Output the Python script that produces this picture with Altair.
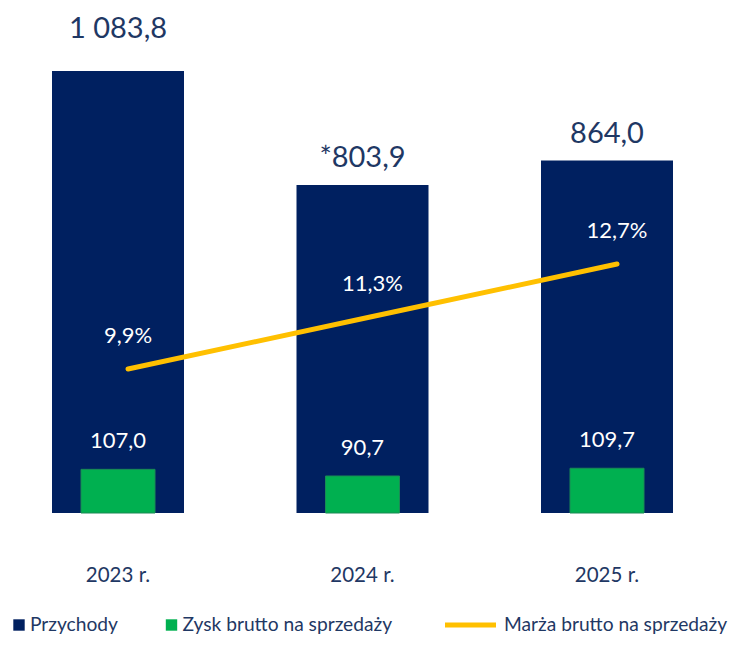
import altair as alt
import pandas as pd

years = ["2023 r.", "2024 r.", "2025 r."]
revenue = [1083.8, 803.9, 864.0]
revenue_marks = ["", "*", ""]
gross_profit = [107.0, 90.7, 109.7]
gross_margin = [9.9, 11.3, 12.7]
series = ["Przychody", "Zysk brutto na sprzedaży", "Marża brutto na sprzedaży"]

NAVY = "#002060"
GREEN = "#00B050"
GOLD = "#FFC000"
TXT = "#1F3864"
FONT = "Lato"


def pl(v):
    return f"{v:,.1f}".replace(",", " ").replace(".", ",")


df = pd.DataFrame({
    "year": years,
    "revenue": revenue,
    "rev_label": [m + pl(v) for m, v in zip(revenue_marks, revenue)],
    "profit": gross_profit,
    "profit_label": [pl(v) for v in gross_profit],
    "margin": gross_margin,
    "margin_label": [pl(v) + "%" for v in gross_margin],
})

x_scale = alt.Scale(domain=years, range=[-12.25, 721.25], paddingInner=0, paddingOuter=0)
x_axis = alt.Axis(title=None, domain=False, ticks=False, labelPadding=52, labelFontSize=20.5,
                  labelColor=TXT, labelFont=FONT, labelAngle=0)
X = alt.X("year:N", scale=x_scale, axis=x_axis)
X_line = alt.X("year:N", scale=x_scale, axis=x_axis, bandPosition=0.541)

y_bar_scale = alt.Scale(domain=[0, 1238], nice=False, zero=True)
base = alt.Chart(df)

navy = base.mark_bar(color=NAVY, size=132).encode(
    x=X, y=alt.Y("revenue:Q", scale=y_bar_scale, axis=None))
green = base.mark_bar(color=GREEN, size=74, stroke="#1A8A55", strokeWidth=1).encode(
    x=X, y=alt.Y("profit:Q", scale=y_bar_scale, axis=None))
rev_text_first = base.transform_filter(alt.datum.year == years[0]).mark_text(
    font=FONT, fontSize=29, color=TXT, baseline="middle", dy=-42).encode(
    x=X, y=alt.Y("revenue:Q", scale=y_bar_scale, axis=None), text="rev_label:N")
rev_text_rest = base.transform_filter(alt.datum.year != years[0]).mark_text(
    font=FONT, fontSize=29, color=TXT, baseline="middle", dy=-27).encode(
    x=X, y=alt.Y("revenue:Q", scale=y_bar_scale, axis=None), text="rev_label:N")
profit_text = base.mark_text(
    font=FONT, fontSize=22, color="white", baseline="middle", dy=-28).encode(
    x=X, y=alt.Y("profit:Q", scale=y_bar_scale, axis=None), text="profit_label:N")

bars_layer = alt.layer(navy, green, rev_text_first, rev_text_rest, profit_text)

y_line_scale = alt.Scale(domain=[6.06, 19.53], nice=False, zero=False)
line = base.mark_line(color=GOLD, strokeWidth=5, strokeCap="round").encode(
    x=X_line, y=alt.Y("margin:Q", scale=y_line_scale, axis=None))
margin_text = base.mark_text(
    font=FONT, fontSize=22, color="white", baseline="middle", dy=-33).encode(
    x=X_line, y=alt.Y("margin:Q", scale=y_line_scale, axis=None), text="margin_label:N")
line_layer = alt.layer(line, margin_text)

main = alt.layer(bars_layer, line_layer).resolve_scale(y="independent")

LEG_Y = 617
LEG_FS = 19.2


def leg_text(i, xpos):
    return alt.Chart(pd.DataFrame({"t": [series[i]]})).mark_text(
        font=FONT, fontSize=LEG_FS, color=TXT, align="left", baseline="middle").encode(
        x=alt.value(xpos), y=alt.value(LEG_Y), text="t:N")


leg_sq1 = alt.Chart(pd.DataFrame({"t": [series[0]]})).mark_square(
    color=NAVY, opacity=1, size=130).encode(x=alt.value(11), y=alt.value(LEG_Y))
leg_sq2 = alt.Chart(pd.DataFrame({"t": [series[1]]})).mark_square(
    color=GREEN, opacity=1, size=130).encode(x=alt.value(163.5), y=alt.value(LEG_Y))
leg_line = alt.Chart(pd.DataFrame({"t": [series[2]]})).mark_rule(
    color=GOLD, strokeWidth=5).encode(x=alt.value(437), x2=alt.value(488), y=alt.value(LEG_Y))

chart = alt.layer(
    main, leg_sq1, leg_text(0, 22), leg_sq2, leg_text(1, 174.5), leg_line, leg_text(2, 496)
).properties(
    width=722, height=505, background="white",
    padding={"left": 0, "top": 0, "right": 0, "bottom": 122},
    autosize=alt.AutoSizeParams(type="none"),
).configure_view(stroke=None)

chart.save("out.html", embed_options={"renderer": "svg", "actions": False})
